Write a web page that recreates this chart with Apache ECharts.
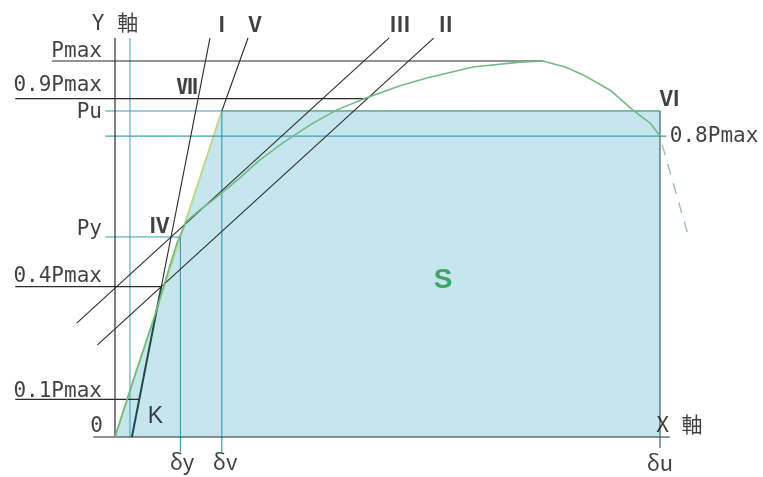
<!DOCTYPE html>
<html>
<head>
<meta charset="utf-8">
<script src="https://cdn.jsdelivr.net/npm/echarts@6/dist/echarts.min.js"></script>
<style>
  html, body { margin: 0; padding: 0; background: #ffffff; }
  #chart { width: 763px; height: 477px; }
</style>
</head>
<body>
<div id="chart"></div>
<script>
// Load levels, in percent of Pmax
const levelNames = ['Pmax', '0.9Pmax', '0.8Pmax', '0.4Pmax', '0.1Pmax'];
const levelValues = [100, 90, 80, 40, 10];
const puValue = 86.7;
const pyValue = 53.2;

// Characteristic displacements (δu = 100)
const dispNames = ['δy', 'δv', 'δu'];
const dispValues = [12.0, 19.6, 100];

// Load–displacement envelope up to δu
const curveDisp = [0, 3.67, 7.34, 10.09, 11.56, 13.03, 15.6, 17.98, 22.9, 26.6, 30.8, 35.8, 40.7, 46.2, 52.3, 57.2, 65.7, 74.3, 78.5, 82.6, 85.9, 90.8, 95.0, 98.2, 100];
const curveLoad = [0, 16.5, 32.4, 45.7, 52.4, 57.2, 60.4, 63.0, 68.9, 73.7, 78.2, 83.0, 87.0, 90.2, 93.4, 95.5, 98.4, 99.7, 100, 98.4, 96.3, 92.3, 87.0, 83.5, 80];

// Descending branch beyond δu (dashed)
const tailDisp = [100.4, 105.0];
const tailLoad = [77.7, 54.5];

// Construction lines: line I passes through K on the δ axis and the 0.4Pmax point
const kDisp = 3.1;
const lineIDispAt04 = 8.5;
// Lines II and III are parallel (δ per unit P)
const parallelSlope = 0.756;
// Upper end of the construction lines
const guideTop = 106.1;

const [dy, dv, du] = dispValues;
const pmax = levelValues[0];
const p09 = levelValues[1];
const p08 = levelValues[2];
const p04 = levelValues[3];
const p01 = levelValues[4];

const slopeI = (lineIDispAt04 - kDisp) / p04;
const lineI = p => kDisp + slopeI * p;
const lineII = p => lineIDispAt04 + parallelSlope * (p - p04);
const ivDisp = lineI(pyValue);
const lineIII = p => ivDisp + parallelSlope * (p - pyValue);
const peakDisp = curveDisp[curveLoad.indexOf(pmax)];

const BLACK = '#2b2b2b';
const TEAL = '#3f9db6';
const FILL = '#c6e6ed';
const EDGE = '#bcd98e';
const CURVE = '#72b987';

function seg(points, color, width, z, dash) {
  return {
    type: 'line', data: points, symbol: 'none', silent: true, animation: false,
    lineStyle: { color: color, width: width, type: dash || 'solid' }, z: z
  };
}

const series = [];

// Area S under the bilinear idealisation
series.push({
  type: 'line', symbol: 'none', silent: true, animation: false, z: 1,
  data: [[0, 0], [dv, puValue], [du, puValue], [du, 0]],
  lineStyle: { width: 0 },
  areaStyle: { color: FILL, opacity: 1 }
});
series.push(seg([[0, 0], [dv, puValue], [du, puValue]], EDGE, 2, 3));

// Teal guide lines
series.push(seg([[2.75, 0], [2.75, guideTop]], TEAL, 1, 4));
series.push(seg([[-1.8, puValue], [du, puValue]], TEAL, 1, 4));
series.push(seg([[-1.8, p08], [101.2, p08]], TEAL, 1.2, 4));
series.push(seg([[-1.8, pyValue], [dy, pyValue]], TEAL, 1, 4));
series.push(seg([[dy, -4], [dy, pyValue]], TEAL, 1.2, 4));
series.push(seg([[dv, -4], [dv, puValue]], TEAL, 1.2, 4));

// Axes
series.push(seg([[0, 0], [0, guideTop]], BLACK, 1.2, 5));
series.push(seg([[-4, 0], [101.8, 0]], BLACK, 1.2, 5));
series.push(seg([[du, -2.9], [du, puValue]], '#3d5f66', 1.2, 5));

// Load level lines
series.push(seg([[-11.6, pmax], [peakDisp, pmax]], BLACK, 1.2, 5));
series.push(seg([[-18.3, p09], [lineII(p09), p09]], BLACK, 1.2, 5));
series.push(seg([[-18.3, p04], [lineI(p04), p04]], BLACK, 1.2, 5));
series.push(seg([[-18.3, p01], [lineI(p01), p01]], BLACK, 1.2, 5));

// Construction lines I, II, III, V
series.push(seg([[lineI(0), 0], [lineI(p04), p04]], '#1f4a4c', 2, 6));
series.push(seg([[lineI(p04), p04], [lineI(guideTop), guideTop]], BLACK, 1.1, 6));
series.push(seg([[lineII(24.5), 24.5], [lineII(guideTop), guideTop]], BLACK, 1.1, 6));
series.push(seg([[lineIII(30.3), 30.3], [lineIII(guideTop), guideTop]], BLACK, 1.1, 6));
series.push(seg([[dv, puValue], [24.4, guideTop]], BLACK, 1.1, 6));

// Envelope curve
series.push(seg(curveDisp.map((d, i) => [d, curveLoad[i]]), CURVE, 1.6, 7));
series.push(seg(tailDisp.map((d, i) => [d, tailLoad[i]]), '#9cbfa9', 1.4, 7, [11, 9]));

// Text
const monoFont = "'DejaVu Sans Mono', 'Noto Sans CJK JP', monospace";
const cjkFont = "'Noto Sans CJK JP', sans-serif";
const romanFont = "'Noto Sans CJK JP', sans-serif";

function txt(text, x, y, align, font, size, weight, color) {
  return {
    value: [x, y],
    label: {
      show: true, formatter: text, position: [0, 0],
      align: align, verticalAlign: 'middle',
      fontFamily: font, fontSize: size, fontWeight: weight || 'normal',
      color: color || '#111111'
    }
  };
}

const labels = [
  txt('Y 軸', 0, 109.8, 'center', monoFont, 21),
  txt('X 軸', 99.3, 2.9, 'left', monoFont, 21),
  txt(levelNames[0], -2.4, 102.4, 'right', monoFont, 21),
  txt(levelNames[1], -2.4, 93.6, 'right', monoFont, 21),
  txt('Pu', -2.4, 86.4, 'right', monoFont, 21),
  txt(levelNames[2], 101.8, p08, 'left', monoFont, 21),
  txt('Py', -2.4, 55.3, 'right', monoFont, 21),
  txt(levelNames[3], -2.4, 42.6, 'right', monoFont, 21),
  txt(levelNames[4], -2.4, 12.2, 'right', monoFont, 21),
  txt('0', -2.2, 2.7, 'right', monoFont, 21),
  txt('K', 7.4, 5.4, 'center', "'Liberation Sans', sans-serif", 23),
  txt(dispNames[0], dy + 0.3, -6.6, 'center', cjkFont, 22),
  txt(dispNames[1], dv + 0.6, -6.6, 'center', cjkFont, 22),
  txt(dispNames[2], du, -6.9, 'center', cjkFont, 22),
  txt('Ⅰ', 19.6, 109.8, 'center', romanFont, 21, 'bold'),
  txt('Ⅴ', 25.7, 109.8, 'center', romanFont, 21, 'bold'),
  txt('Ⅲ', 52.3, 109.8, 'center', romanFont, 21, 'bold'),
  txt('Ⅱ', 60.7, 109.8, 'center', romanFont, 21, 'bold'),
  txt('Ⅶ', 13.2, 93.4, 'center', romanFont, 21, 'bold'),
  txt('Ⅵ', 101.8, 90.2, 'center', romanFont, 21, 'bold'),
  txt('Ⅳ', 8.1, 56.4, 'center', romanFont, 21, 'bold'),
  txt('S', 60.2, 41.8, 'center', "'Liberation Sans', sans-serif", 28, 'bold', '#1a9545')
];

series.push({
  type: 'scatter', symbolSize: 0, silent: true, animation: false, z: 10,
  data: labels
});

const chart = echarts.init(document.getElementById('chart'), null, { renderer: 'canvas' });
chart.setOption({
  animation: false,
  backgroundColor: '#ffffff',
  grid: { left: 0, right: 0, top: 0, bottom: 0, containLabel: false },
  xAxis: { type: 'value', min: -21.1, max: 118.9, show: false },
  yAxis: { type: 'value', min: -10.64, max: 116.22, show: false },
  series: series
});
</script>
</body>
</html>
